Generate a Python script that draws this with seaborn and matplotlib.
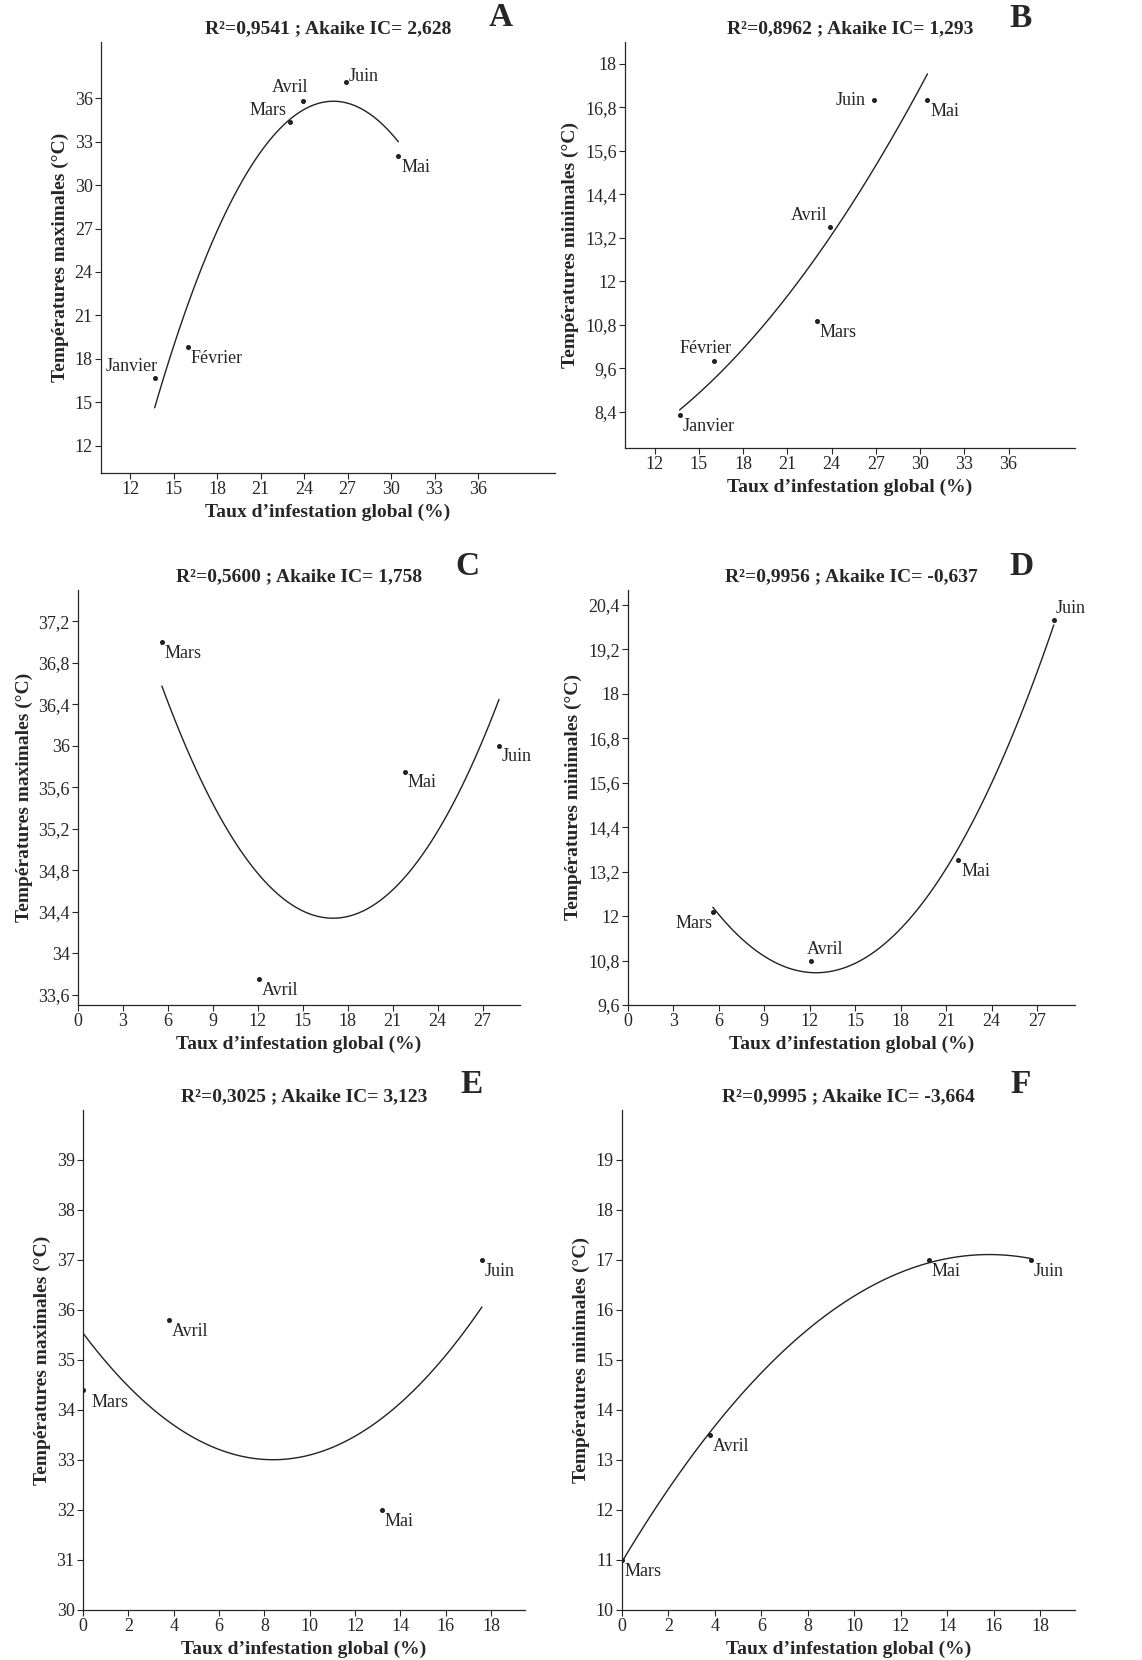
import numpy as np
import pandas as pd
import matplotlib
matplotlib.use("Agg")
import matplotlib.pyplot as plt
import seaborn as sns

sns.set_style("ticks")
plt.rcParams['font.family'] = ['Liberation Serif', 'DejaVu Serif']

# data
months_ab = ["Janvier", "Février", "Mars", "Avril", "Juin", "Mai"]
taux_ab = [13.7, 16.0, 23.0, 23.9, 26.9, 30.5]
tmax_a = [16.7, 18.8, 34.4, 35.8, 37.1, 32.0]
tmin_b = [8.3, 9.8, 10.9, 13.5, 17.0, 17.0]

months_cd = ["Mars", "Avril", "Mai", "Juin"]
taux_cd = [5.6, 12.1, 21.8, 28.1]
tmax_c = [37.0, 33.75, 35.75, 36.0]
tmin_d = [12.1, 10.8, 13.5, 20.0]

months_ef = ["Mars", "Avril", "Mai", "Juin"]
taux_ef = [0.0, 3.8, 13.2, 17.6]
tmax_e = [34.4, 35.8, 32.0, 37.0]
tmin_f = [11.0, 13.5, 17.0, 17.0]

titles = ["R²=0,9541 ; Akaike IC= 2,628", "R²=0,8962 ; Akaike IC= 1,293",
          "R²=0,5600 ; Akaike IC= 1,758", "R²=0,9956 ; Akaike IC= -0,637",
          "R²=0,3025 ; Akaike IC= 3,123", "R²=0,9995 ; Akaike IC= -3,664"]
letters = ["A", "B", "C", "D", "E", "F"]

# label placement: (dx, dy, ha, va) in points
R_B = (2, -2, 'left', 'top')
lab_pos = [
    [(2, 2, 'right', 'bottom'), R_B, (-2, 2, 'right', 'bottom'), (4, 4, 'right', 'bottom'), (2, -2, 'left', 'bottom'), R_B],
    [R_B, (-6, 3, 'center', 'bottom'), R_B, (-2, 2, 'right', 'bottom'), (-6, 0, 'right', 'center'), R_B],
    [R_B] * 4,
    [(0, -2, 'right', 'top'), (-3, 2, 'left', 'bottom'), R_B, (1, 2, 'left', 'bottom')],
    [(6, -3, 'left', 'top'), R_B, R_B, R_B],
    [R_B] * 4,
]

panels = [
    (taux_ab, tmax_a, months_ab, "Températures maximales (°C)", (10, 41.3), (10.1, 39.9), np.arange(12, 37, 3), np.arange(12, 37, 3), [101, 555, 42, 473]),
    (taux_ab, tmin_b, months_ab, "Températures minimales (°C)", (10, 40.5), (7.4, 18.6), np.arange(12, 37, 3), np.arange(8.4, 18.1, 1.2), [625, 1075, 42, 448]),
    (taux_cd, tmax_c, months_cd, "Températures maximales (°C)", (0, 29.5), (33.5, 37.5), np.arange(0, 28, 3), np.arange(33.6, 37.3, 0.4), [78, 520, 590, 1005]),
    (taux_cd, tmin_d, months_cd, "Températures minimales (°C)", (0, 29.5), (9.6, 20.8), np.arange(0, 28, 3), np.arange(9.6, 20.5, 1.2), [628, 1075, 590, 1005]),
    (taux_ef, tmax_e, months_ef, "Températures maximales (°C)", (0, 19.5), (30, 40), np.arange(0, 19, 2), np.arange(30, 40, 1), [83, 525, 1110, 1610]),
    (taux_ef, tmin_f, months_ef, "Températures minimales (°C)", (0, 19.5), (10, 20), np.arange(0, 19, 2), np.arange(10, 20, 1), [622, 1075, 1110, 1610]),
]

W, H = 1142, 1660
fig = plt.figure(figsize=(W / 100, H / 100), dpi=100)

for i, (xs, ys, names, ylab, xl, yl, xt, yt, box) in enumerate(panels):
    l, r, t, b = box
    ax = fig.add_axes([l / W, 1 - b / H, (r - l) / W, (b - t) / H])
    df = pd.DataFrame({"x": xs, "y": ys})
    sns.regplot(data=df, x="x", y="y", order=2, ci=None, ax=ax, truncate=True,
                scatter_kws=dict(s=7, color="black"), line_kws=dict(color="#222222", lw=1))
    for j, name in enumerate(names):
        dx, dy, ha, va = lab_pos[i][j]
        ax.annotate(name, (xs[j], ys[j]), xytext=(dx, dy), textcoords="offset points",
                    ha=ha, va=va, fontsize=13)
    ax.set_xlim(*xl)
    ax.set_ylim(*yl)
    ax.set_xticks(xt)
    ax.set_yticks(yt)
    ax.set_yticklabels([f"{v:g}".replace(".", ",") for v in np.round(yt, 1)])
    ax.tick_params(labelsize=13, length=4, width=0.8, pad=2)
    ax.set_xlabel("Taux d’infestation global (%)", fontsize=14, fontweight="bold")
    ax.set_ylabel(ylab, fontsize=14, fontweight="bold")
    ax.set_title(titles[i], fontsize=14, fontweight="bold", pad=6)
    ax.text(0.88, 1.02, letters[i], transform=ax.transAxes, fontsize=24, fontweight="bold",
            ha="center", va="bottom")
    for s in ["top", "right"]:
        ax.spines[s].set_visible(False)
    for s in ["left", "bottom"]:
        ax.spines[s].set_linewidth(0.9)

fig.savefig("out.png", dpi=100)
